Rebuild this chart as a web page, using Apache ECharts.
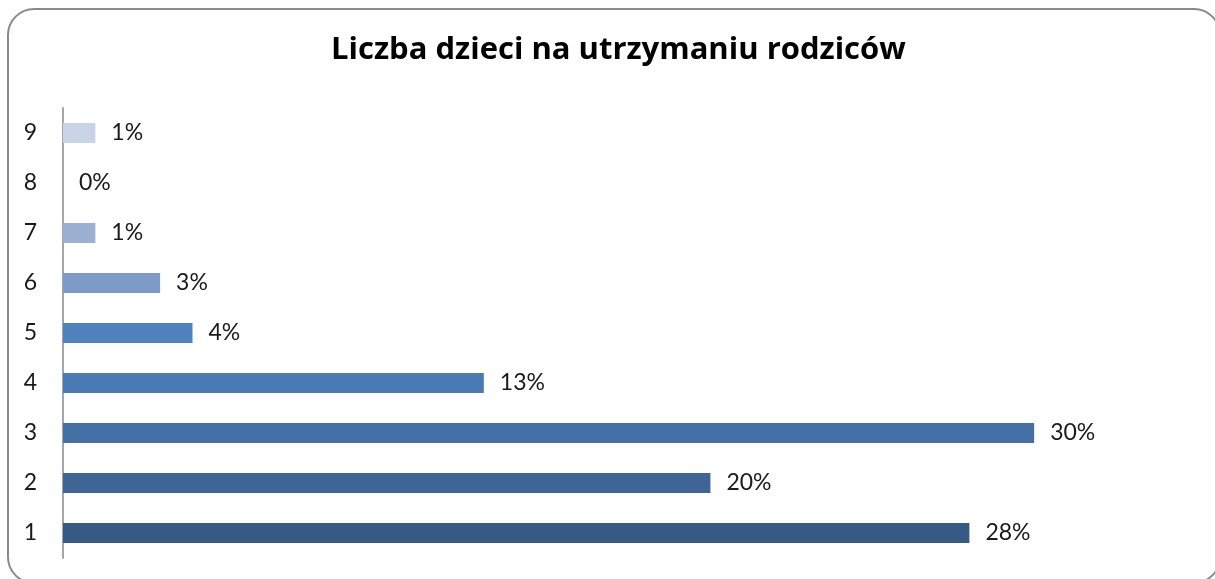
<!DOCTYPE html>
<html>
<head>
<meta charset="utf-8">
<script src="https://cdn.jsdelivr.net/npm/echarts@6/dist/echarts.min.js"></script>
<style>
  html, body { margin: 0; padding: 0; background: #fff; }
  #chart { width: 1215px; height: 579px; }
</style>
</head>
<body>
<div id="chart"></div>
<script>
// dane
var categories = ['1', '2', '3', '4', '5', '6', '7', '8', '9'];
var values = [28, 20, 30, 13, 4, 3, 1, 0, 1];
var barColors = ['#365a84', '#3e6595', '#4570a6', '#4a7ab4', '#4f81bd', '#7e9ac8', '#9cb0d4', '#b7c5df', '#c9d3e6'];

var myChart = echarts.init(document.getElementById('chart'));

var option = {
    animation: false,
    textStyle: { fontFamily: 'Lato, "Open Sans", sans-serif' },
    title: {
        text: 'Liczba dzieci na utrzymaniu rodziców',
        left: 326,
        top: 30,
        textStyle: {
            fontFamily: '"Open Sans", Lato, sans-serif',
            fontSize: 31,
            fontWeight: 'bold',
            color: '#000'
        }
    },
    graphic: [{
        type: 'rect',
        shape: { x: 8, y: 9, width: 1212, height: 574, r: 26 },
        style: { fill: 'none', stroke: '#8a8a8a', lineWidth: 2 },
        z: -1
    }],
    grid: {
        left: 63,
        right: 19,
        top: 108,
        bottom: 21
    },
    xAxis: {
        type: 'value',
        min: 0,
        max: 35,
        show: false
    },
    yAxis: {
        type: 'category',
        data: categories,
        axisTick: { show: false },
        axisLine: {
            lineStyle: { color: '#a6a6a6', width: 2 }
        },
        axisLabel: {
            color: '#1a1a1a',
            fontSize: 23,
            margin: 26,
            padding: [3, 0, 0, 0]
        }
    },
    series: [{
        type: 'bar',
        barWidth: 20,
        data: values.map(function (v, i) {
            return { value: v, itemStyle: { color: barColors[i] } };
        }),
        label: {
            show: true,
            position: 'right',
            distance: 16,
            color: '#1a1a1a',
            fontSize: 23,
            padding: [3, 0, 0, 0],
            formatter: function (p) { return p.value + '%'; }
        }
    }]
};

myChart.setOption(option);
</script>
</body>
</html>
